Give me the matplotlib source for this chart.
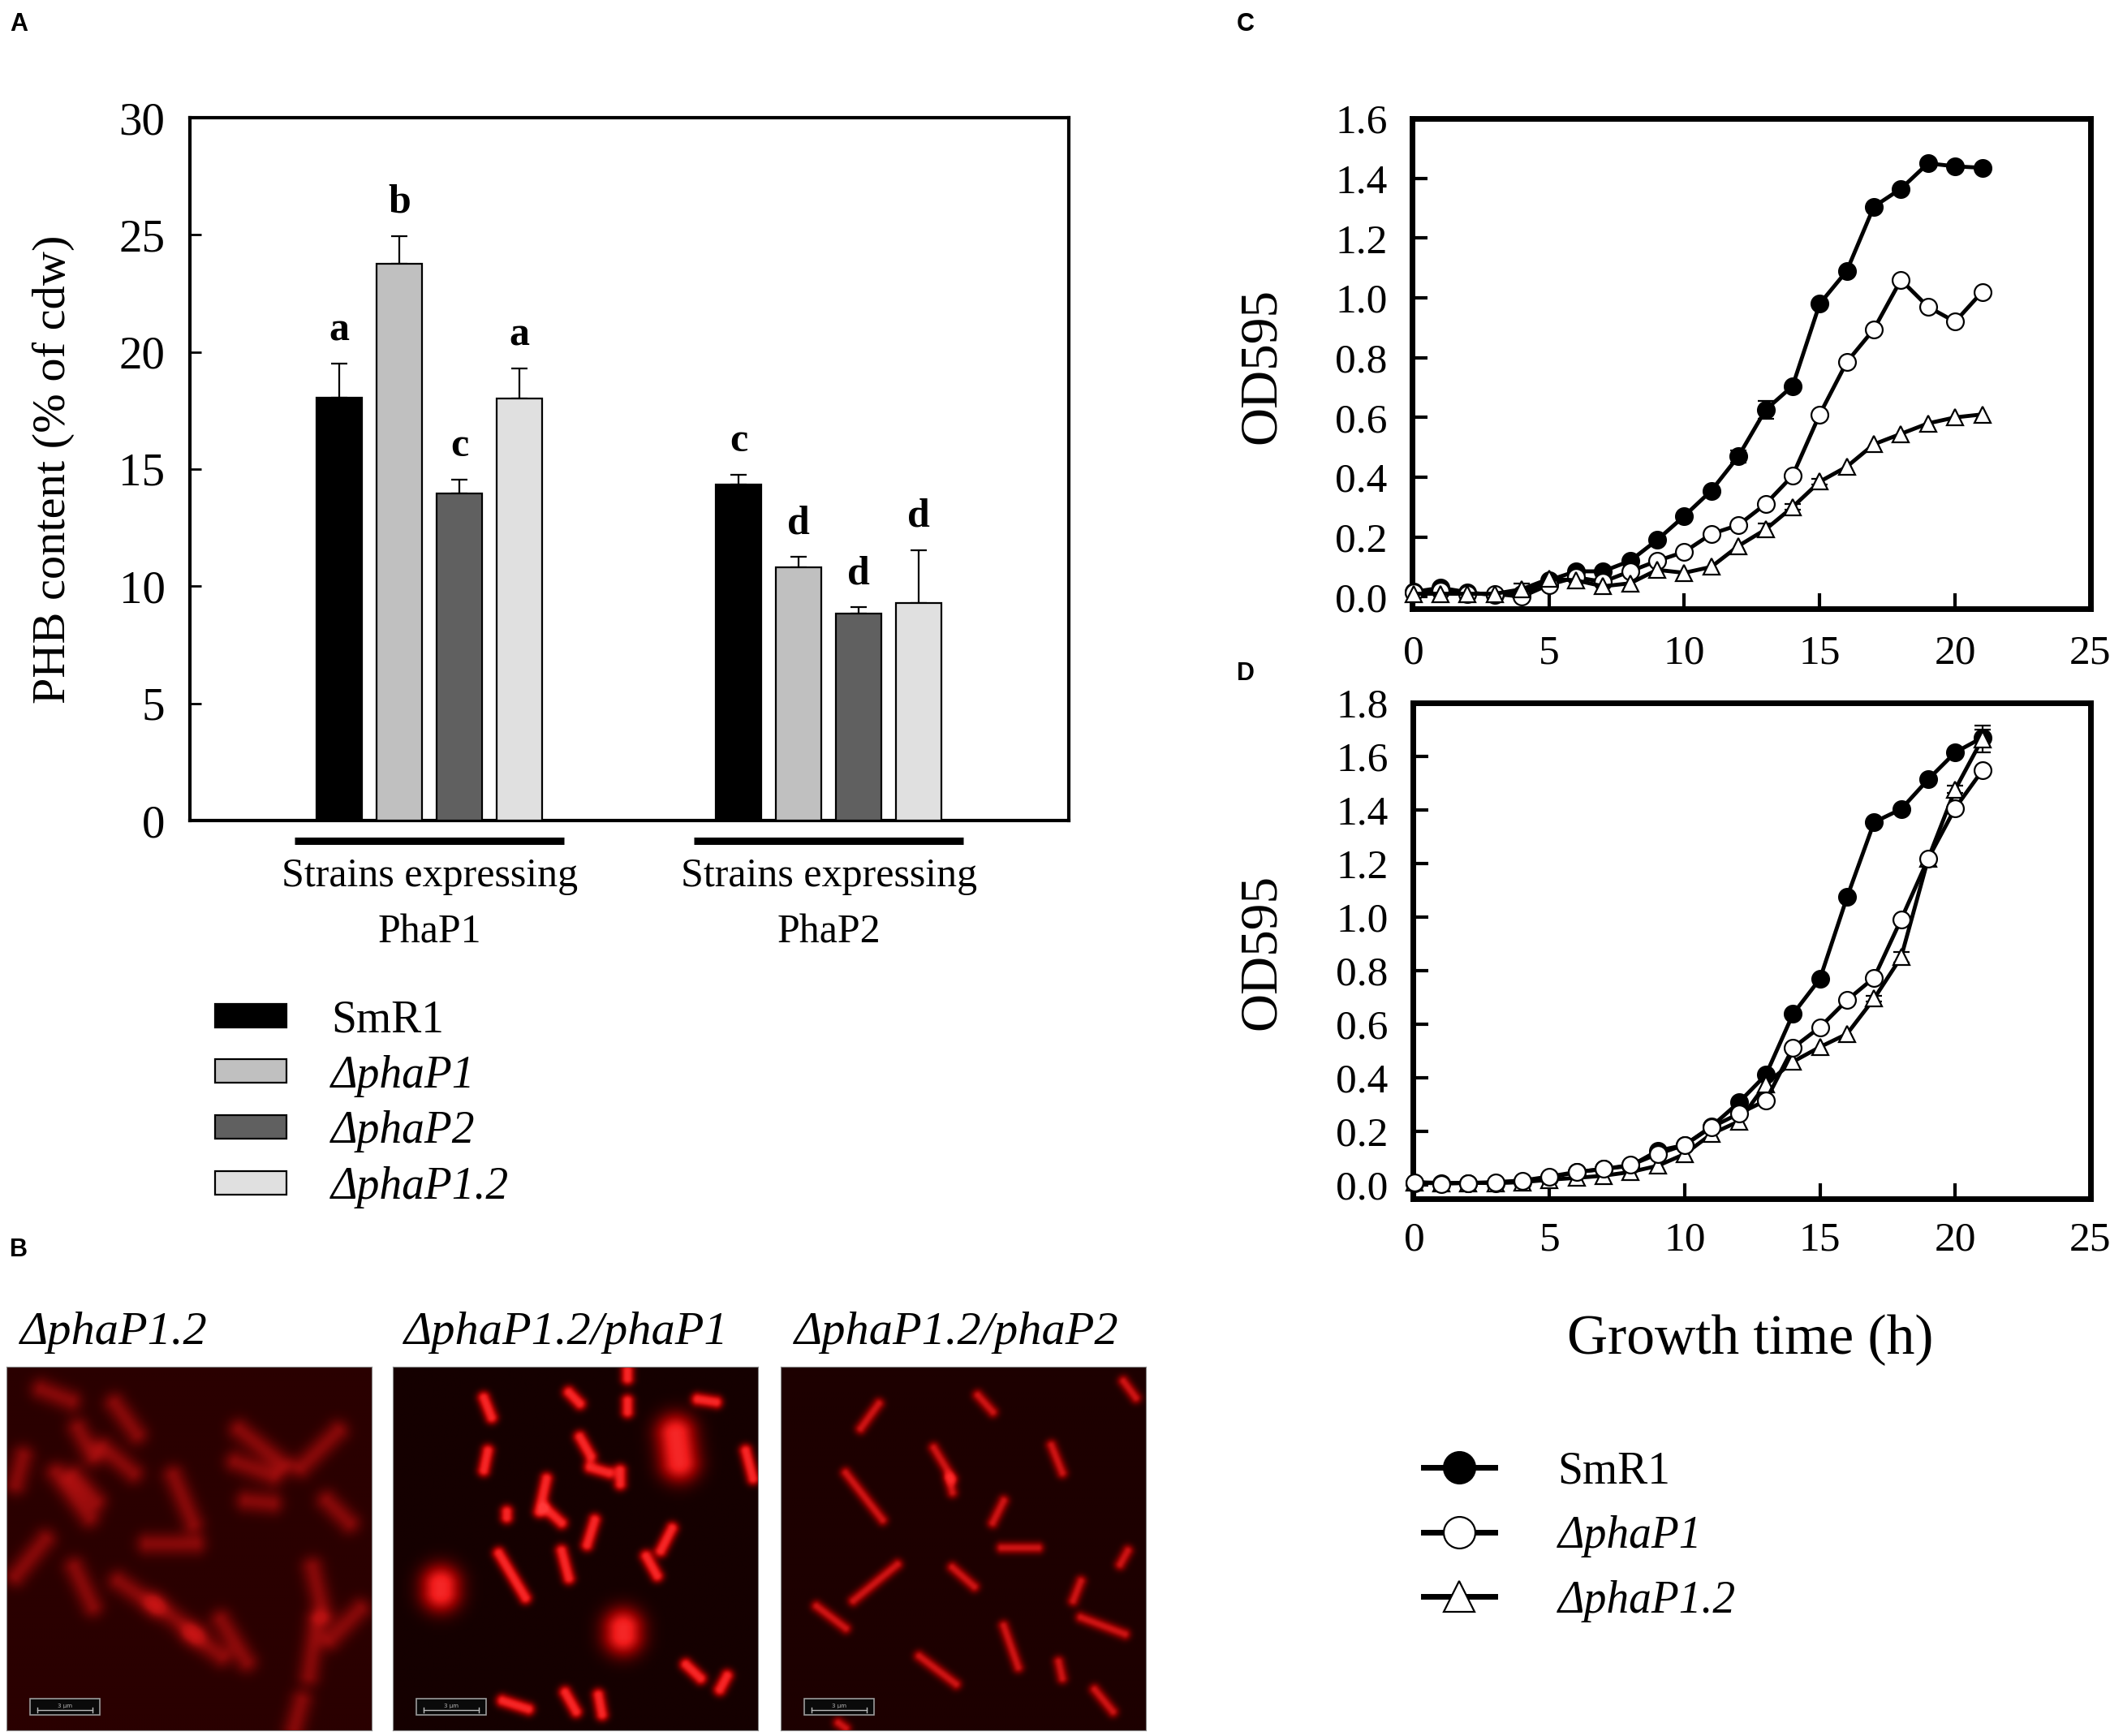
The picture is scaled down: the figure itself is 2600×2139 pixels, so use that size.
import numpy as np
import matplotlib
matplotlib.use('Agg')
import matplotlib.pyplot as plt
from matplotlib.patches import Patch, Rectangle
from matplotlib.lines import Line2D
from matplotlib.colors import LinearSegmentedColormap
from matplotlib.transforms import blended_transform_factory

plt.rcParams['font.family'] = ['Liberation Serif', 'DejaVu Serif']

# ---------------- data: panel A ----------------
strains = ['SmR1', 'ΔphaP1', 'ΔphaP2', 'ΔphaP1.2']
bar_colors = ['#000000', '#c0c0c0', '#606060', '#e0e0e0']
group_line1 = ['Strains expressing', 'Strains expressing']
group_line2 = ['PhaP1', 'PhaP2']
phb_p1 = [18.05, 23.75, 13.95, 18.0]
phb_p1_err = [1.45, 1.2, 0.6, 1.3]
phb_p2 = [14.35, 10.8, 8.85, 9.3]
phb_p2_err = [0.4, 0.45, 0.25, 2.25]
letters_p1 = ['a', 'b', 'c', 'a']
letters_p2 = ['c', 'd', 'd', 'd']
a_yticks = [0, 5, 10, 15, 20, 25, 30]

# ---------------- data: panels C, D ----------------
hours = list(range(22))
curve_labels = ['SmR1', 'ΔphaP1', 'ΔphaP1.2']
c_smr1 = [0.016, 0.03, 0.015, 0.005, 0.01, 0.055, 0.085, 0.085, 0.12, 0.19, 0.27,
          0.355, 0.47, 0.625, 0.705, 0.98, 1.09, 1.305, 1.365, 1.45, 1.44, 1.435]
c_p1 = [0.015, 0.02, 0.01, 0.01, 0.0, 0.04, 0.065, 0.05, 0.085, 0.12, 0.15,
        0.21, 0.24, 0.31, 0.405, 0.61, 0.785, 0.895, 1.06, 0.97, 0.92, 1.02]
c_p12 = [0.01, 0.01, 0.01, 0.01, 0.025, 0.06, 0.055, 0.035, 0.045, 0.09, 0.08,
         0.1, 0.17, 0.225, 0.3, 0.385, 0.435, 0.51, 0.545, 0.58, 0.6, 0.61]
c_smr1_err = [0]*12 + [0.02, 0.03] + [0]*8
c_p1_err = [0]*22
c_p12_err = [0]*4 + [0.02] + [0]*8 + [0.02, 0.01, 0.01] + [0]*6

d_smr1 = [0.006, 0.006, 0.006, 0.006, 0.01, 0.025, 0.047, 0.058, 0.07, 0.126, 0.148,
          0.218, 0.307, 0.41, 0.637, 0.769, 1.074, 1.354, 1.403, 1.514, 1.615, 1.67]
d_p1 = [0.009, 0.003, 0.006, 0.009, 0.015, 0.03, 0.047, 0.058, 0.073, 0.114, 0.148,
        0.215, 0.265, 0.314, 0.511, 0.588, 0.689, 0.773, 0.991, 1.218, 1.407, 1.547]
d_p12 = [0.009, 0.006, 0.006, 0.006, 0.009, 0.018, 0.025, 0.033, 0.047, 0.07, 0.114,
         0.19, 0.236, 0.376, 0.459, 0.514, 0.563, 0.695, 0.85, 1.218, 1.477, 1.665]
d_smr1_err = [0]*21 + [0.03]
d_p1_err = [0]*22
d_p12_err = [0]*17 + [0.01, 0.02, 0, 0.015, 0.05]

# ---------------- data: panel B (cells in each micrograph: x1, y1, x2, y2 as image fractions) ----------------
b_titles = ['ΔphaP1.2', 'ΔphaP1.2/phaP1', 'ΔphaP1.2/phaP2']
cells_p12 = [
    (.095, .061, .175, .092), (.296, .100, .356, .184), (.195, .169, .235, .245),
    (.266, .222, .346, .291), (.638, .172, .759, .268), (.909, .176, .809, .276),
    (.628, .261, .729, .299), (.457, .299, .511, .429), (.658, .368, .728, .375),
    (.135, .291, .225, .414), (.386, .487, .517, .487), (.105, .475, .024, .575),
    (.185, .552, .235, .659), (.306, .590, .406, .659), (.406, .651, .517, .736),
    (.588, .697, .658, .812), (.839, .552, .869, .682), (.970, .667, .889, .751),
    (.879, .368, .940, .429), (.809, .920, .789, .996), (.044, .245, .024, .322),
    (.185, .299, .245, .368), (.507, .736, .588, .797), (.850, .700, .830, .850),
]
cells_p12_p1 = [
    (.248, .084, .269, .138), (.481, .069, .511, .100), (.642, .092, .642, .123),
    (.834, .088, .885, .096), (.774, .184, .784, .261), (.511, .192, .541, .245),
    (.259, .230, .248, .284), (.539, .276, .590, .291), (.622, .284, .622, .322),
    (.420, .307, .400, .398), (.311, .398, .311, .414), (.420, .391, .461, .429),
    (.552, .421, .531, .490), (.764, .444, .733, .506), (.693, .521, .723, .575),
    (.289, .513, .362, .636), (.461, .506, .481, .582), (.130, .600, .130, .620),
    (.630, .720, .630, .740), (.802, .820, .842, .858), (.915, .851, .895, .889),
    (.299, .920, .370, .943), (.471, .897, .501, .950), (.562, .904, .572, .958),
    (.966, .230, .986, .307), (.642, .008, .642, .031),
]
cells_p12_p2 = [
    (.268, .100, .218, .169), (.540, .077, .581, .123), (.940, .038, .974, .084),
    (.419, .222, .470, .307), (.742, .215, .772, .291), (.177, .291, .278, .421),
    (.460, .307, .470, .345), (.611, .368, .581, .429), (.605, .498, .706, .498),
    (.952, .506, .931, .544), (.470, .552, .530, .605), (.319, .544, .198, .644),
    (.097, .659, .177, .720), (.823, .590, .802, .644), (.823, .690, .944, .736),
    (.611, .713, .651, .828), (.379, .797, .480, .874), (.861, .889, .911, .950),
    (.157, .981, .177, .996), (.762, .812, .772, .858),
]
cell_width = [0.022, 0.012, 0.011]
cell_gain = [0.45, 0.8, 0.6]
big_blob_idx = [[], [4, 17, 18], []]
b_cmaps = [['#2a0000', '#6a0505', '#b01010', '#d01616'],
           ['#150000', '#900000', '#ee1a1a', '#ff3a3a'],
           ['#1d0000', '#800000', '#e01818', '#ff2a2a']]

W, H = 2600, 2139
fig = plt.figure(figsize=(W / 100, H / 100), dpi=100)


def fx(px):
    return px / W


def fy(py):
    return 1 - py / H


# ---------------- panel A ----------------
axA = fig.add_axes([fx(234), fy(1011), 1083 / W, 866 / H])
group_offsets = [2.49, 9.14]
bar_w = 0.76
blend = blended_transform_factory(axA.transData, fig.transFigure)
for g, (vals, errs, lets) in enumerate([(phb_p1, phb_p1_err, letters_p1),
                                          (phb_p2, phb_p2_err, letters_p2)]):
    x = group_offsets[g] + np.arange(len(vals))
    axA.bar(x, vals, width=bar_w, color=bar_colors, edgecolor='black',
            linewidth=1.6, zorder=3)
    axA.errorbar(x, vals, yerr=[np.zeros(len(vals)), errs], fmt='none',
                 ecolor='black', elinewidth=1.6, capsize=7, capthick=1.6, zorder=2)
    for xi, v, e, l in zip(x, vals, errs, lets):
        axA.text(xi, v + e + 1.0, l, ha='center', va='baseline',
                 fontsize=36, fontweight='bold')
    axA.plot([x[0] - 0.75, x[-1] + 0.74], [fy(1036)] * 2, transform=blend,
             clip_on=False, color='black', lw=6.5, solid_capstyle='butt')
    cx = x.mean()
    axA.text(cx, fy(1092), group_line1[g], transform=blend, ha='center',
             va='baseline', fontsize=36)
    axA.text(cx, fy(1161), group_line2[g], transform=blend, ha='center',
             va='baseline', fontsize=36)
axA.set_xlim(0, 14.64)
axA.set_ylim(0, 30)
axA.set_yticks(a_yticks)
axA.set_xticks([])
axA.tick_params(axis='y', direction='in', length=10, width=2, labelsize=41, pad=22)
for s in axA.spines.values():
    s.set_linewidth(3)
fig.text(fx(66), fy(578), 'PHB content (% of cdw)', rotation=90,
         ha='center', va='center', fontsize=42)

handlesA = [Patch(facecolor=c, edgecolor='black', linewidth=1.6) for c in bar_colors]
legA = fig.legend(handlesA, strains, loc='center left',
                  bbox_to_anchor=(fx(265), fy(1360)), frameon=False,
                  fontsize=40, handlelength=1.58, handleheight=0.43,
                  handletextpad=1.0, labelspacing=0.30, borderpad=0,
                  borderaxespad=0)
for t in legA.get_texts()[1:]:
    t.set_fontstyle('italic')

# ---------------- panels C, D ----------------
def growth_panel(rect, series, errs, ylim, yticks, order, xpad):
    ax = fig.add_axes(rect)
    styles = [dict(marker='o', mfc='black'),
              dict(marker='o', mfc='white'),
              dict(marker='^', mfc='white')]
    for i in order:
        y = np.array(series[i], dtype=float)
        e = np.array(errs[i], dtype=float)
        ax.plot(hours, y, color='black', lw=3.5, markersize=15, mec='black',
                mew=1.6, clip_on=False, zorder=3 + order.index(i), **styles[i])
        idx = np.nonzero(e)[0]
        if len(idx):
            ax.errorbar(np.array(hours)[idx], y[idx], yerr=e[idx], fmt='none',
                        ecolor='black', elinewidth=1.6, capsize=7, capthick=1.6,
                        zorder=2)
    ax.set_xlim(-0.05, 25)
    ax.set_ylim(*ylim)
    ax.set_xticks([0, 5, 10, 15, 20, 25])
    ax.set_yticks(yticks)
    ax.set_yticklabels([f'{v:.1f}' for v in yticks])
    ax.tick_params(axis='both', direction='in', length=14, width=3, labelsize=37)
    ax.tick_params(axis='y', pad=22)
    ax.tick_params(axis='x', pad=xpad)
    for s in ax.spines.values():
        s.set_linewidth(5)
    return ax


axC = growth_panel([fx(1740), fy(750), 836 / W, 604 / H],
                   [c_smr1, c_p1, c_p12], [c_smr1_err, c_p1_err, c_p12_err],
                   (-0.04, 1.6), np.arange(0, 1.61, 0.2), [0, 1, 2], 23)
axD = growth_panel([fx(1741), fy(1477), 835 / W, 611 / H],
                   [d_smr1, d_p1, d_p12], [d_smr1_err, d_p1_err, d_p12_err],
                   (-0.053, 1.8), np.arange(0, 1.81, 0.2), [0, 2, 1], 20)
fig.text(fx(1555), fy(451), 'OD595', rotation=90, ha='center', va='center', fontsize=47)
fig.text(fx(1555), fy(1173), 'OD595', rotation=90, ha='center', va='center', fontsize=47)
fig.text(fx(2157), fy(1651), 'Growth time (h)', ha='center', va='center', fontsize=50)

handlesC = [Line2D([], [], color='black', lw=5, marker='o', markersize=28, mfc='black', mec='black', mew=1.6),
            Line2D([], [], color='black', lw=5, marker='o', markersize=28, mfc='white', mec='black', mew=1.6),
            Line2D([], [], color='black', lw=5, marker='^', markersize=28, mfc='white', mec='black', mew=1.6)]
legC = fig.legend(handlesC, curve_labels, loc='center left',
                  bbox_to_anchor=(fx(1754), fy(1893)), frameon=False,
                  fontsize=40, handlelength=1.58, handletextpad=1.4,
                  labelspacing=0.5, borderpad=0, borderaxespad=0)
for t in legC.get_texts()[1:]:
    t.set_fontstyle('italic')

# ---------------- panel B ----------------
def render(cells, width, gain, blobs, n=300):
    yy, xx = np.mgrid[0:n, 0:n] / (n - 1)
    img = np.zeros((n, n))
    for k, (x1, y1, x2, y2) in enumerate(cells):
        w = width * (3.0 if k in blobs else 1.0)
        dx, dy = x2 - x1, y2 - y1
        L2 = dx * dx + dy * dy
        t = 0 if L2 == 0 else np.clip(((xx - x1) * dx + (yy - y1) * dy) / L2, 0, 1)
        d2 = (xx - x1 - t * dx) ** 2 + (yy - y1 - t * dy) ** 2
        img += gain * np.exp(-d2 / (2 * w * w))
    return np.clip(img, 0, 1)


b_lefts = [8, 484, 962]
title_x = [25, 498, 979]
for k, cells in enumerate([cells_p12, cells_p12_p1, cells_p12_p2]):
    axB = fig.add_axes([fx(b_lefts[k]), fy(2132), 450 / W, 448 / H])
    cmap = LinearSegmentedColormap.from_list(f'b{k}', b_cmaps[k])
    axB.imshow(render(cells, cell_width[k], cell_gain[k], big_blob_idx[k]),
               cmap=cmap, vmin=0, vmax=1, extent=[0, 1, 1, 0],
               interpolation='bilinear', aspect='auto')
    axB.set_xlim(0, 1)
    axB.set_ylim(1, 0)
    axB.set_xticks([])
    axB.set_yticks([])
    for s in axB.spines.values():
        s.set_linewidth(0.8)
        s.set_color('#888888')
    axB.add_patch(Rectangle((0.065, 0.912), 0.19, 0.045, facecolor='#0a0a0a',
                            edgecolor='#9a9a9a', lw=1.2))
    axB.plot([0.085, 0.235], [0.945, 0.945], color='#bbbbbb', lw=1)
    axB.plot([0.085, 0.085], [0.938, 0.952], color='#bbbbbb', lw=1)
    axB.plot([0.235, 0.235], [0.938, 0.952], color='#bbbbbb', lw=1)
    axB.text(0.16, 0.932, '3 μm', color='#bbbbbb', fontsize=5, ha='center',
             va='center', family='DejaVu Sans')
    fig.text(fx(title_x[k]), fy(1642), b_titles[k], ha='left', va='center',
             fontsize=42, fontstyle='italic')

# ---------------- panel letters ----------------
for lab, (px, py) in zip('ABCD', [(23, 30), (23, 1540), (1535, 30), (1535, 830)]):
    fig.text(fx(px), fy(py), lab, ha='center', va='center', fontsize=22,
             fontweight='bold', family='Liberation Sans')

fig.savefig('out.png', dpi=100, facecolor='white')
